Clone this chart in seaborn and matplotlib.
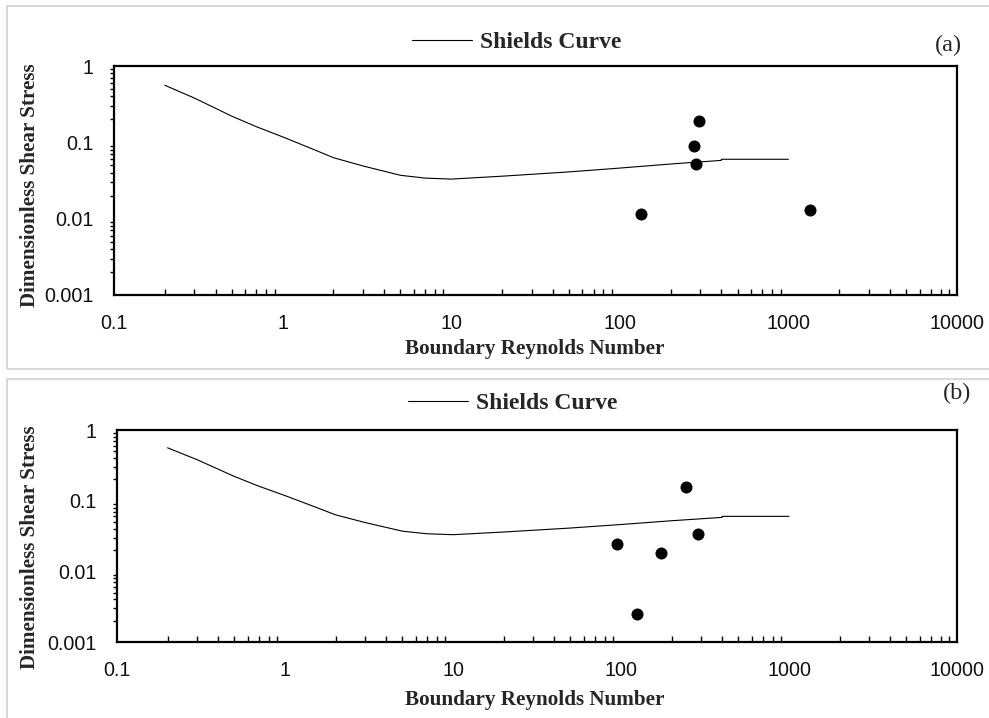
import numpy as np
import pandas as pd
import matplotlib
matplotlib.use("Agg")
import matplotlib.pyplot as plt
from matplotlib.patches import Rectangle
from matplotlib.ticker import LogLocator, FuncFormatter, NullFormatter
import seaborn as sns

# Shields curve (boundary Reynolds number vs dimensionless shear stress)
shields_re = [0.2, 0.3, 0.5, 0.7, 1, 1.5, 2, 3, 5, 7, 10, 20, 50, 100, 200, 400, 400, 1000]
shields_tau = [0.56, 0.38, 0.22, 0.16, 0.118, 0.082, 0.063, 0.049, 0.037, 0.034, 0.033,
               0.036, 0.041, 0.046, 0.052, 0.058, 0.06, 0.06]

# Observations, panel (a)
re_a = [296, 277, 284, 134, 1349]
tau_a = [0.192, 0.0895, 0.0515, 0.0114, 0.013]

# Observations, panel (b)
re_b = [243, 287, 95, 174, 124]
tau_b = [0.158, 0.034, 0.0246, 0.0184, 0.0025]

panel_tags = ["(a)", "(b)"]
x_label = "Boundary Reynolds Number"
y_label = "Dimensionless Shear Stress"
legend_label = "Shields Curve"

sns.set_style("white")
plt.rcParams["font.family"] = ["Liberation Sans", "DejaVu Sans"]

W, H = 989, 718
fig = plt.figure(figsize=(W / 100, H / 100), dpi=100)

def fx(px):
    return px / W

def fy(py):
    return 1 - py / H

# panel frames
for (x0, y0, x1, y1) in [(7, 6, 992, 369), (7, 379, 992, 720)]:
    fig.patches.append(Rectangle((fx(x0), fy(y1)), fx(x1 - x0), (y1 - y0) / H,
                                 transform=fig.transFigure, fill=False,
                                 edgecolor="#d4d4d4", linewidth=1.3, zorder=0))

# axes boxes (pixels): left, top, right, bottom
boxes = [(114, 66, 957, 295), (117, 430, 957, 642)]
data = [(re_a, tau_a), (re_b, tau_b)]
legend_pos = [(412, 42), (408, 403)]
tag_pos = [(948, 45), (957, 393)]
xlab_y = [349, 700]
ylab_x = [30, 30]
ylab_y = [185, 547]

shields_df = pd.DataFrame({"re": shields_re, "tau": shields_tau})

for i in range(2):
    l, t, r, b = boxes[i]
    ax = fig.add_axes([fx(l), fy(b), fx(r - l), (b - t) / H])
    xs, ys = data[i]
    obs_df = pd.DataFrame({"re": xs, "tau": ys})
    sns.lineplot(data=shields_df, x="re", y="tau", ax=ax, color="black",
                 linewidth=0.8, sort=False, estimator=None, label=legend_label)
    sns.scatterplot(data=obs_df, x="re", y="tau", ax=ax, color="black",
                    s=75, edgecolor="black", linewidth=0, zorder=3, legend=False)
    ax.set_xscale("log")
    ax.set_yscale("log")
    ax.set_xlim(0.1, 10000)
    ax.set_ylim(0.001, 1)
    ax.set_xlabel("")
    ax.set_ylabel("")
    fmt = FuncFormatter(lambda v, p: "%g" % v)
    ax.xaxis.set_major_locator(LogLocator(base=10, numticks=10))
    ax.yaxis.set_major_locator(LogLocator(base=10, numticks=10))
    ax.xaxis.set_minor_locator(LogLocator(base=10, subs=np.arange(2, 10), numticks=20))
    ax.yaxis.set_minor_locator(LogLocator(base=10, subs=np.arange(2, 10), numticks=20))
    ax.xaxis.set_major_formatter(fmt)
    ax.yaxis.set_major_formatter(fmt)
    ax.xaxis.set_minor_formatter(NullFormatter())
    ax.yaxis.set_minor_formatter(NullFormatter())
    for s in ax.spines.values():
        s.set_linewidth(1.6)
        s.set_color("black")
    ax.tick_params(axis="both", which="major", direction="inout", length=8,
                   width=1.2, color="black", labelsize=14.2, labelcolor="#111111")
    ax.tick_params(axis="x", which="major", pad=10)
    ax.tick_params(axis="y", which="major", pad=11)
    ax.tick_params(axis="x", which="minor", direction="in", length=4, width=1.0,
                   color="black", bottom=True)
    ax.tick_params(axis="y", which="minor", direction="out", length=3, width=1.0,
                   color="black", left=True)
    ax.text((535 - l) / (r - l), (b - xlab_y[i]) / (b - t), x_label,
            transform=ax.transAxes, ha="center", va="center",
            fontsize=15.2, fontweight="bold", family=["Liberation Serif", "DejaVu Serif"])
    ax.text((ylab_x[i] - l) / (r - l), (b - ylab_y[i]) / (b - t), y_label,
            transform=ax.transAxes, ha="center", va="center", rotation=90,
            fontsize=15.2, fontweight="bold", family=["Liberation Serif", "DejaVu Serif"])
    lx, ly = legend_pos[i]
    leg = ax.legend(loc="center left", bbox_to_anchor=(fx(lx), fy(ly)),
                    bbox_transform=fig.transFigure, frameon=False,
                    handlelength=2.55, handletextpad=0.35, borderpad=0,
                    borderaxespad=0,
                    prop={"family": ["Liberation Serif", "DejaVu Serif"],
                          "weight": "bold", "size": 17})
    tx, ty = tag_pos[i]
    fig.text(fx(tx), fy(ty), panel_tags[i], ha="center", va="center",
             fontsize=17.5, family=["Liberation Serif", "DejaVu Serif"])

fig.savefig("out.png", dpi=100)
